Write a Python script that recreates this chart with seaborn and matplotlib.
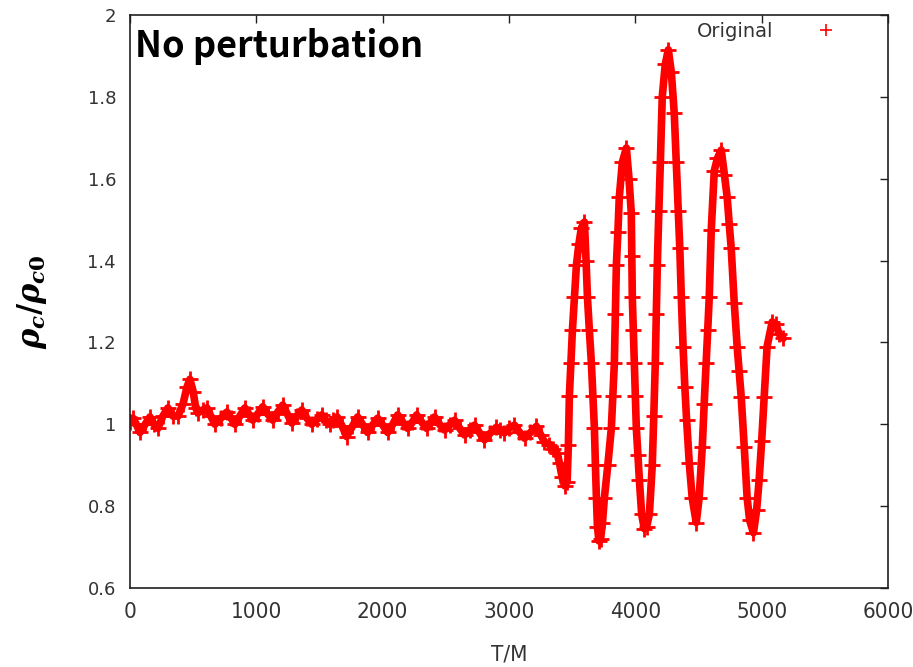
import matplotlib
matplotlib.use("Agg")
import matplotlib.pyplot as plt
import seaborn as sns
import pandas as pd
from matplotlib.lines import Line2D

# ---- data ----
t_vals = [0, 24, 50, 79, 120, 158, 190, 221, 260, 300, 340, 380, 420, 450, 474, 500, 520, 538,
          575, 609, 640, 672, 720, 767, 800, 830, 870, 909, 940, 972, 1010, 1051, 1090, 1130,
          1170, 1209, 1245, 1281, 1320, 1360, 1400, 1439, 1480, 1518, 1550, 1581, 1610, 1640,
          1680, 1715, 1760, 1802, 1840, 1881, 1920, 1960, 2000, 2040, 2080, 2119, 2160, 2198,
          2235, 2269, 2310, 2348, 2380, 2411, 2450, 2490, 2530, 2569, 2610, 2648, 2690, 2727,
          2765, 2806, 2850, 2901, 2930, 2964, 3000, 3043, 3080, 3123, 3170, 3217, 3250, 3281,
          3320, 3350, 3380, 3400, 3420, 3440, 3460, 3470, 3478, 3490, 3502, 3518, 3534, 3553,
          3573, 3597, 3610, 3621, 3636, 3652, 3664, 3676, 3684, 3692, 3700, 3712, 3725, 3740,
          3755, 3782, 3810, 3822, 3834, 3842, 3850, 3862, 3873, 3897, 3929, 3950, 3968, 3972,
          3976, 3984, 3992, 4000, 4008, 4020, 4032, 4050, 4071, 4090, 4111, 4134, 4146, 4158,
          4166, 4174, 4186, 4198, 4213, 4237, 4261, 4285, 4308, 4324, 4340, 4352, 4364, 4378,
          4392, 4406, 4427, 4450, 4482, 4505, 4530, 4545, 4561, 4573, 4585, 4601, 4625, 4650,
          4680, 4705, 4727, 4743, 4759, 4783, 4806, 4822, 4838, 4862, 4885, 4905, 4935, 4960,
          4980, 5000, 5020, 5043, 5083, 5110, 5140, 5170]
rho_vals = [1.005, 1.015, 1.0, 0.98, 1.0, 1.018, 1.0, 0.99, 1.02, 1.04, 1.02, 1.02, 1.05, 1.09,
            1.11, 1.08, 1.04, 1.028, 1.035, 1.04, 1.02, 1.0, 1.015, 1.03, 1.015, 1.0, 1.02, 1.04,
            1.025, 1.01, 1.025, 1.043, 1.025, 1.01, 1.03, 1.047, 1.025, 1.003, 1.02, 1.035,
            1.015, 1.0, 1.012, 1.023, 1.01, 1.0, 1.01, 1.018, 0.995, 0.97, 0.995, 1.018, 1.0,
            0.98, 0.998, 1.015, 0.998, 0.98, 1.0, 1.023, 1.005, 0.99, 1.005, 1.023, 1.005, 0.99,
            1.005, 1.018, 1.0, 0.986, 0.998, 1.01, 0.99, 0.974, 0.985, 0.998, 0.98, 0.962, 0.978,
            0.993, 0.986, 0.979, 0.99, 0.998, 0.982, 0.966, 0.98, 0.995, 0.975, 0.957, 0.95, 0.94,
            0.93, 0.905, 0.87, 0.85, 0.86, 0.95, 1.07, 1.15, 1.23, 1.31, 1.39, 1.44, 1.48, 1.494,
            1.40, 1.31, 1.23, 1.15, 1.07, 0.99, 0.90, 0.82, 0.75, 0.715, 0.72, 0.76, 0.82, 0.90,
            0.99, 1.07, 1.15, 1.27, 1.39, 1.47, 1.555, 1.64, 1.675, 1.60, 1.516, 1.41, 1.31, 1.23,
            1.15, 1.07, 0.99, 0.925, 0.864, 0.78, 0.745, 0.75, 0.78, 0.90, 1.02, 1.15, 1.27, 1.39,
            1.52, 1.64, 1.80, 1.88, 1.915, 1.86, 1.76, 1.64, 1.52, 1.43, 1.31, 1.19, 1.09, 1.01,
            0.905, 0.82, 0.76, 0.82, 0.945, 1.05, 1.15, 1.23, 1.31, 1.475, 1.62, 1.65, 1.67,
            1.61, 1.555, 1.49, 1.43, 1.296, 1.19, 1.13, 1.067, 0.945, 0.82, 0.765, 0.735, 0.79,
            0.864, 0.96, 1.067, 1.19, 1.25, 1.245, 1.22, 1.21]

x_ticks = [0, 1000, 2000, 3000, 4000, 5000, 6000]
y_ticks = [0.6, 0.8, 1.0, 1.2, 1.4, 1.6, 1.8, 2.0]
y_tick_labels = ["0.6", "0.8", "1", "1.2", "1.4", "1.6", "1.8", "2"]
series_name = "Original"
title_text = "No perturbation"

df = pd.DataFrame({"T": t_vals, "rho": rho_vals})

sns.set_theme(style="white")
plt.rcParams["font.family"] = ["DejaVu Sans"]
plt.rcParams["mathtext.fontset"] = "custom"
plt.rcParams["mathtext.it"] = "DejaVu Serif:italic:bold"
plt.rcParams["mathtext.rm"] = "DejaVu Serif:bold"
plt.rcParams["mathtext.bf"] = "DejaVu Serif:italic:bold"

fig = plt.figure(figsize=(9.13, 6.67), dpi=100)
ax = fig.add_axes([130 / 913, 79 / 667, 758 / 913, 573 / 667])

sns.lineplot(data=df, x="T", y="rho", ax=ax, color="red", linewidth=5.5,
             marker="+", markersize=11, markeredgewidth=2.0, markeredgecolor="red",
             sort=False, estimator=None)

ax.set_xlim(0, 6000)
ax.set_ylim(0.6, 2.0)
ax.set_xticks(x_ticks)
ax.set_xticklabels([str(v) for v in x_ticks])
ax.set_yticks(y_ticks)
ax.set_yticklabels(y_tick_labels)

ax.tick_params(direction="in", top=True, right=True, length=6, width=1,
               colors="#202020", labelcolor="#333333", labelsize=13, pad=10)
for lab in ax.get_xticklabels():
    lab.set_fontsize(16)
    lab.set_fontstretch("condensed")
for sp in ax.spines.values():
    sp.set_visible(True)
    sp.set_color("#202020")
    sp.set_linewidth(1.2)

ax.set_xlabel("T/M", fontsize=16, color="#333333", labelpad=16, fontstretch="condensed")
ax.set_ylabel(r"$\rho_c/\rho_{c0}$", fontsize=22, color="black", labelpad=28)

handle = Line2D([], [], linestyle="none", marker="+", color="red",
                markersize=8, markeredgewidth=1.2)
leg = ax.legend([handle], [series_name], loc="upper right", frameon=False,
                markerfirst=False, fontsize=14, handletextpad=1.7,
                bbox_to_anchor=(0.962, 1.012), borderaxespad=0.3)
for txt in leg.get_texts():
    txt.set_color("#333333")

fig.text(135 / 913, 1 - 57 / 667, title_text, fontsize=26, fontweight="bold",
         family=["Noto Sans CJK KR", "DejaVu Sans"], va="baseline", ha="left",
         color="black")

fig.savefig("out.png", dpi=100, facecolor="white")
